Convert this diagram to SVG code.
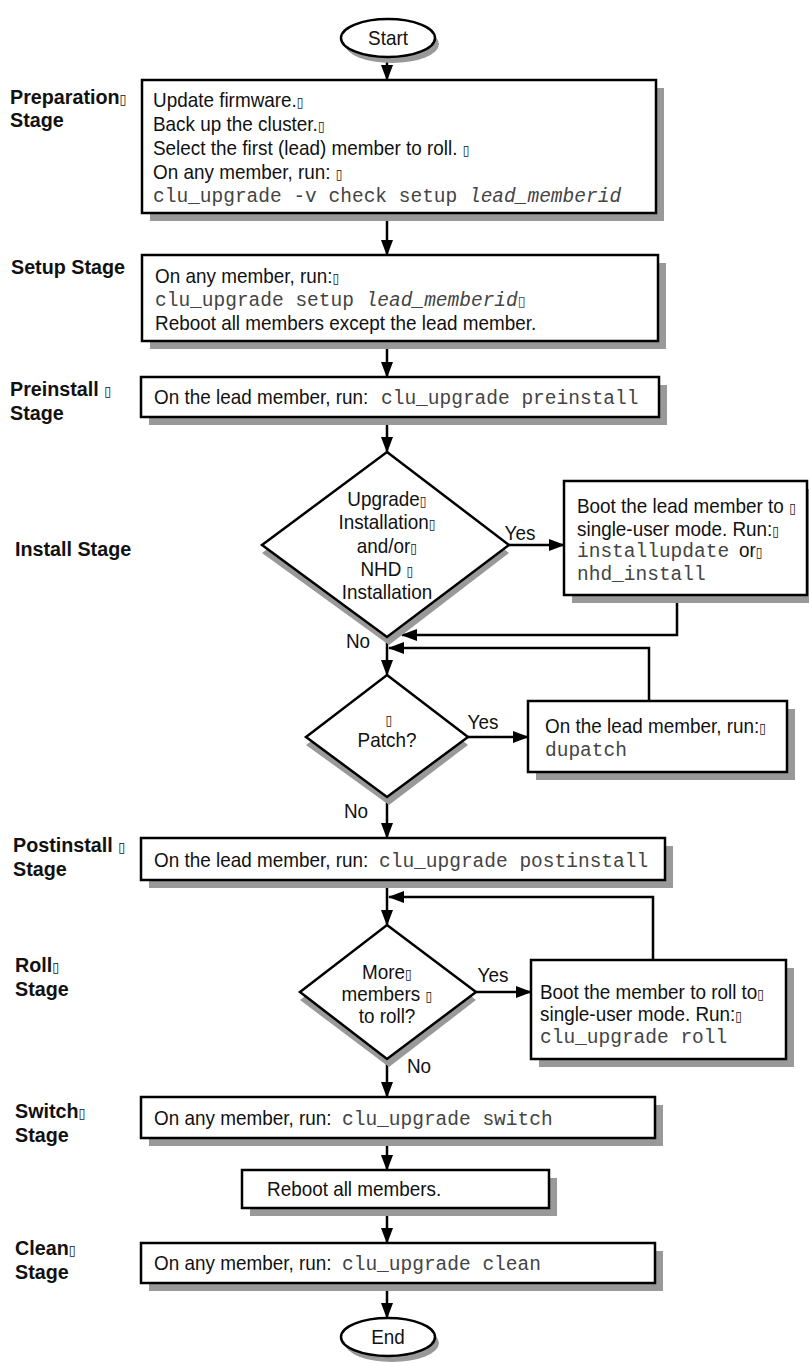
<svg xmlns="http://www.w3.org/2000/svg" width="809" height="1363" viewBox="0 0 809 1363">
<style>
.box{fill:#fff;stroke:#000;stroke-width:2.5}
.sh{fill:#999}
.t{font-family:"Liberation Sans",Arial,sans-serif;font-size:21px;fill:#111}
.lbl{font-family:"Liberation Sans",Arial,sans-serif;font-size:21px;font-weight:bold;fill:#111}
.m{font-family:"Liberation Mono","Courier New",monospace;font-size:19.5px;fill:#444}
.mi{font-family:"Liberation Mono","Courier New",monospace;font-size:19.5px;font-style:italic;fill:#444}
.bx{font-family:"DejaVu Sans",sans-serif;font-size:14px;font-weight:normal;font-style:normal}
.c{fill:none;stroke:#000;stroke-width:2.5}
.ca{fill:none;stroke:#000;stroke-width:2.5;marker-end:url(#ah)}
</style>
<defs>
<marker id="ah" markerUnits="userSpaceOnUse" markerWidth="16" markerHeight="12" refX="15" refY="6" orient="auto">
<path d="M0,0 L16,6 L0,12 z" fill="#000"/>
</marker>
</defs>
<rect width="809" height="1363" fill="#fff"/>

<g id="stage-labels">
<text class="lbl" transform="translate(10,104) scale(.94,1)">Preparation<tspan class="bx">▯</tspan></text>
<text class="lbl" transform="translate(10,127) scale(.94,1)">Stage</text>
<text class="lbl" transform="translate(11,274) scale(.94,1)">Setup Stage</text>
<text class="lbl" transform="translate(10,396) scale(.94,1)">Preinstall <tspan class="bx">▯</tspan></text>
<text class="lbl" transform="translate(10,420) scale(.94,1)">Stage</text>
<text class="lbl" transform="translate(15,556) scale(.94,1)">Install Stage</text>
<text class="lbl" transform="translate(13,852) scale(.94,1)">Postinstall <tspan class="bx">▯</tspan></text>
<text class="lbl" transform="translate(13,876) scale(.94,1)">Stage</text>
<text class="lbl" transform="translate(15,972) scale(.94,1)">Roll<tspan class="bx">▯</tspan></text>
<text class="lbl" transform="translate(15,996) scale(.94,1)">Stage</text>
<text class="lbl" transform="translate(15,1118) scale(.94,1)">Switch<tspan class="bx">▯</tspan></text>
<text class="lbl" transform="translate(15,1142) scale(.94,1)">Stage</text>
<text class="lbl" transform="translate(15,1255) scale(.94,1)">Clean<tspan class="bx">▯</tspan></text>
<text class="lbl" transform="translate(15,1279) scale(.94,1)">Stage</text>
</g>

<g id="connectors">
<line class="ca" x1="387" y1="57" x2="387" y2="80"/>
<line class="ca" x1="387" y1="213" x2="387" y2="255"/>
<line class="ca" x1="387" y1="341" x2="387" y2="377"/>
<line class="ca" x1="387" y1="417" x2="387" y2="452"/>
<line class="ca" x1="509" y1="545" x2="564" y2="545"/>
<polyline class="ca" points="677,595 677,635 402,635"/>
<line class="ca" x1="387" y1="637" x2="387" y2="675"/>
<polyline class="ca" points="649,701 649,648 389,648"/>
<line class="ca" x1="468" y1="737" x2="528" y2="737"/>
<line class="ca" x1="387" y1="797" x2="387" y2="838"/>
<line class="ca" x1="387" y1="880" x2="387" y2="925"/>
<polyline class="ca" points="653,960 653,897 389,897"/>
<line class="ca" x1="476" y1="992" x2="531" y2="992"/>
<line class="ca" x1="387" y1="1059" x2="387" y2="1097"/>
<line class="ca" x1="387" y1="1138" x2="387" y2="1170"/>
<line class="ca" x1="387" y1="1208" x2="387" y2="1243"/>
<line class="ca" x1="387" y1="1283" x2="387" y2="1318"/>
<text class="t" transform="translate(520,540) scale(.9,1)" text-anchor="middle">Yes</text>
<text class="t" transform="translate(358,648) scale(.9,1)" text-anchor="middle">No</text>
<text class="t" transform="translate(483,729) scale(.9,1)" text-anchor="middle">Yes</text>
<text class="t" transform="translate(356,818) scale(.9,1)" text-anchor="middle">No</text>
<text class="t" transform="translate(493,982) scale(.9,1)" text-anchor="middle">Yes</text>
<text class="t" transform="translate(419,1073) scale(.9,1)" text-anchor="middle">No</text>
</g>

<g id="start">
<ellipse cx="392" cy="44" rx="47" ry="19" class="sh"/>
<ellipse cx="388" cy="38" rx="47" ry="19" class="box"/>
<text class="t" transform="translate(388,45) scale(.9,1)" text-anchor="middle">Start</text>
</g>

<g id="preparation">
<rect x="150" y="88" width="514" height="133" class="sh"/>
<rect x="142" y="80" width="514" height="133" class="box"/>
<text class="t" transform="translate(153,107) scale(.9,1)">Update firmware.<tspan class="bx">▯</tspan></text>
<text class="t" transform="translate(153,131) scale(.9,1)">Back up the cluster.<tspan class="bx">▯</tspan></text>
<text class="t" transform="translate(153,155) scale(.9,1)">Select the first (lead) member to roll.  <tspan class="bx">▯</tspan></text>
<text class="t" transform="translate(153,179) scale(.9,1)">On any member, run: <tspan class="bx">▯</tspan></text>
<text class="m" x="153" y="202">clu_upgrade -v check setup <tspan class="mi">lead_memberid</tspan></text>
</g>

<g id="setup">
<rect x="150" y="263" width="516" height="86" class="sh"/>
<rect x="142" y="255" width="516" height="86" class="box"/>
<text class="t" transform="translate(155,283) scale(.9,1)">On any member, run:<tspan class="bx">▯</tspan></text>
<text class="m" x="155" y="306">clu_upgrade setup <tspan class="mi">lead_memberid</tspan><tspan class="bx">▯</tspan></text>
<text class="t" transform="translate(155,330) scale(.9,1)">Reboot all members except the lead member.</text>
</g>

<g id="preinstall">
<rect x="149" y="385" width="518" height="40" class="sh"/>
<rect x="141" y="377" width="518" height="40" class="box"/>
<text class="t" transform="translate(154,404) scale(.9,1)">On the lead member, run:</text>
<text class="m" x="381" y="404">clu_upgrade preinstall</text>
</g>

<g id="install-decision">
<polygon points="389,460 509,553 389,645 262,553" class="sh"/>
<polygon points="387,452 509,545 387,637 262,545" class="box"/>
<text class="t" text-anchor="middle" transform="translate(387,506) scale(.9,1)">Upgrade<tspan class="bx">▯</tspan></text>
<text class="t" text-anchor="middle" transform="translate(387,529) scale(.9,1)">Installation<tspan class="bx">▯</tspan></text>
<text class="t" text-anchor="middle" transform="translate(387,553) scale(.9,1)">and/or<tspan class="bx">▯</tspan></text>
<text class="t" text-anchor="middle" transform="translate(387,576) scale(.9,1)">NHD <tspan class="bx">▯</tspan></text>
<text class="t" text-anchor="middle" transform="translate(387,599) scale(.9,1)">Installation</text>
</g>

<g id="install">
<rect x="572" y="489" width="243" height="114" class="sh"/>
<rect x="564" y="481" width="243" height="114" class="box"/>
<text class="t" transform="translate(577,513) scale(.9,1)">Boot the lead member to <tspan class="bx">▯</tspan></text>
<text class="t" transform="translate(577,536) scale(.9,1)">single-user mode.  Run:<tspan class="bx">▯</tspan></text>
<text class="m" x="577" y="557">installupdate</text>
<text class="t" transform="translate(739,557) scale(.9,1)">or<tspan class="bx">▯</tspan></text>
<text class="m" x="577" y="580">nhd_install</text>
</g>

<g id="patch-decision">
<polygon points="389,683 468,745 389,805 306,745" class="sh"/>
<polygon points="387,675 468,737 387,797 306,737" class="box"/>
<text class="t" text-anchor="middle" transform="translate(389,725) scale(.9,1)"><tspan class="bx">▯</tspan></text>
<text class="t" text-anchor="middle" transform="translate(387,747) scale(.9,1)">Patch?</text>
</g>

<g id="patch">
<rect x="536" y="709" width="259" height="71" class="sh"/>
<rect x="528" y="701" width="259" height="71" class="box"/>
<text class="t" transform="translate(545,733) scale(.9,1)">On the lead member, run:<tspan class="bx">▯</tspan></text>
<text class="m" x="545" y="756">dupatch</text>
</g>

<g id="postinstall">
<rect x="149" y="846" width="524" height="42" class="sh"/>
<rect x="141" y="838" width="524" height="42" class="box"/>
<text class="t" transform="translate(154,867) scale(.9,1)">On the lead member, run:</text>
<text class="m" x="379" y="867">clu_upgrade postinstall</text>
</g>

<g id="roll-decision">
<polygon points="389,933 476,1000 389,1067 300,1000" class="sh"/>
<polygon points="387,925 476,992 387,1059 300,992" class="box"/>
<text class="t" text-anchor="middle" transform="translate(387,979) scale(.9,1)">More<tspan class="bx">▯</tspan></text>
<text class="t" text-anchor="middle" transform="translate(387,1001) scale(.9,1)">members <tspan class="bx">▯</tspan></text>
<text class="t" text-anchor="middle" transform="translate(387,1023) scale(.9,1)">to roll?</text>
</g>

<g id="roll">
<rect x="539" y="968" width="255" height="99" class="sh"/>
<rect x="531" y="960" width="255" height="99" class="box"/>
<text class="t" transform="translate(540,999) scale(.9,1)">Boot the member to roll to<tspan class="bx">▯</tspan></text>
<text class="t" transform="translate(540,1021) scale(.9,1)">single-user mode.  Run:<tspan class="bx">▯</tspan></text>
<text class="m" x="540" y="1043">clu_upgrade roll</text>
</g>

<g id="switch">
<rect x="149" y="1105" width="514" height="41" class="sh"/>
<rect x="141" y="1097" width="514" height="41" class="box"/>
<text class="t" transform="translate(154,1125) scale(.9,1)">On any member, run:</text>
<text class="m" x="342" y="1125">clu_upgrade switch</text>
</g>

<g id="reboot">
<rect x="250" y="1178" width="307" height="38" class="sh"/>
<rect x="242" y="1170" width="307" height="38" class="box"/>
<text class="t" transform="translate(267,1196) scale(.9,1)">Reboot all members.</text>
</g>

<g id="clean">
<rect x="149" y="1251" width="514" height="40" class="sh"/>
<rect x="141" y="1243" width="514" height="40" class="box"/>
<text class="t" transform="translate(154,1270) scale(.9,1)">On any member, run:</text>
<text class="m" x="342" y="1270">clu_upgrade clean</text>
</g>

<g id="end">
<ellipse cx="392" cy="1343" rx="47" ry="19" class="sh"/>
<ellipse cx="388" cy="1337" rx="47" ry="19" class="box"/>
<text class="t" transform="translate(388,1344) scale(.9,1)" text-anchor="middle">End</text>
</g>
</svg>
